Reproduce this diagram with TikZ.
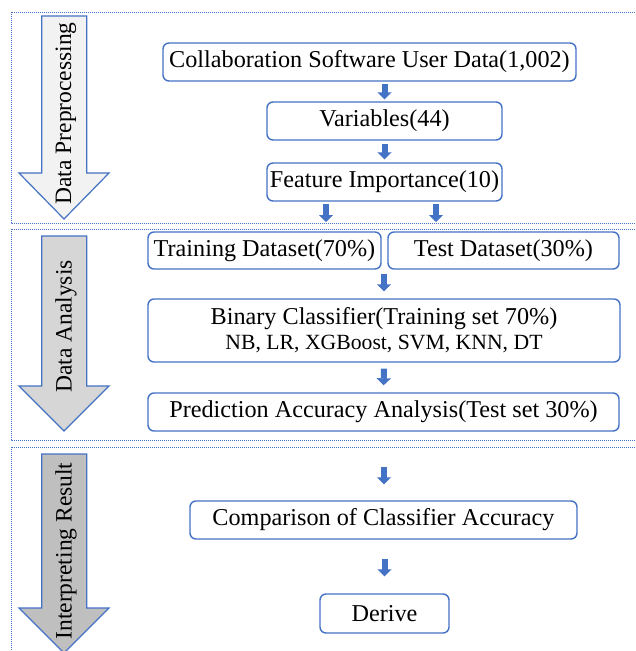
\documentclass[tikz,border=0pt]{standalone}
\usepackage{fontspec}
\setmainfont{Liberation Serif}
\usetikzlibrary{arrows.meta}
\definecolor{bblue}{HTML}{4472C4}
\definecolor{gA}{HTML}{F2F2F2}
\definecolor{gB}{HTML}{D6D6D6}
\definecolor{gC}{HTML}{BFBFBF}
\tikzset{
  panel/.style={draw=bblue, line width=1pt, dash pattern=on 1pt off 1pt},
  bigarrow/.style={draw=bblue, line width=1.2pt, line join=miter},
  box/.style={draw=bblue, line width=1.4pt, rounded corners=6pt, fill=white, inner sep=0pt, align=center, font=\fontsize{24.2}{28}\selectfont},
  sarrow/.style={draw=bblue, line width=6pt, -{Triangle[width=14pt,length=7pt]}, bblue},
  vlabel/.style={rotate=90, inner sep=0pt, font=\fontsize{23.5}{27}\selectfont}
}
\begin{document}
\begin{tikzpicture}[x=1pt,y=-1pt]
\useasboundingbox (0,0) rectangle (635,651);
\clip (0,0) rectangle (635,651);
% panels
\draw[panel] (11,12) rectangle (660,223);
\draw[panel] (11,229) rectangle (660,440);
\draw[panel] (11,447) rectangle (660,700);
% big arrows
\draw[bigarrow, fill=gA] (41.7,16) -- (86.7,16) -- (86.7,173) -- (109,173) -- (64,219) -- (19,173) -- (41.7,173) -- cycle;
\draw[bigarrow, fill=gB] (41.7,236) -- (86.7,236) -- (86.7,386) -- (109,386) -- (64,431) -- (19,386) -- (41.7,386) -- cycle;
\draw[bigarrow, fill=gC] (41.7,454) -- (86.7,454) -- (86.7,608) -- (109,608) -- (64,653) -- (19,608) -- (41.7,608) -- cycle;
\node[vlabel] (l1) at (66,113.5) {Data Preprocessing};
\node[vlabel] (l2) at (66,326.5) {Data Analysis};
\node[vlabel] (l3) at (66,551) {Interpreting Result};
% boxes
\node[box, minimum width=413pt, minimum height=38pt] (b1) at (369.5,62) {Collaboration Software User Data(1,002)};
\node[box, minimum width=235pt, minimum height=38pt] (b2) at (384.5,121) {Variables(44)};
\node[box, minimum width=235pt, minimum height=38pt] (b3) at (384.5,182) {Feature Importance(10)};
\node[box, minimum width=233pt, minimum height=37pt] (train) at (264.5,250.5) {Training Dataset(70\%)};
\node[box, minimum width=231pt, minimum height=37pt] (test) at (503.5,250.5) {Test Dataset(30\%)};
\node[box, minimum width=472pt, minimum height=63pt] (bin) at (384,330.5) {Binary Classifier(Training set 70\%)\\[-3pt]{\fontsize{21.7}{25}\selectfont NB, LR, XGBoost, SVM, KNN, DT}};
\node[box, minimum width=471pt, minimum height=38pt] (pred) at (383.5,412) {Prediction Accuracy Analysis(Test set 30\%)};
\node[box, minimum width=387pt, minimum height=38pt] (comp) at (383.5,520) {Comparison of Classifier Accuracy};
\node[box, minimum width=129pt, minimum height=39pt] (der) at (384.5,613.5) {Derive};
% small arrows
\coordinate (e1) at (326,222);
\coordinate (e2) at (436,222);
\coordinate (s3) at (384,467);
\draw[sarrow, shorten <=2pt, shorten >=2pt] (b1.south -| b2.north) -- (b2.north);
\draw[sarrow, shorten <=3pt, shorten >=3pt] (b2.south) -- (b3.north);
\draw[sarrow, shorten <=2pt] (b3.south -| e1) -- (e1);
\draw[sarrow, shorten <=2pt] (b3.south -| e2) -- (e2);
\draw[sarrow, shorten <=4pt, shorten >=7pt] (train.south -| bin.north) -- (bin.north);
\draw[sarrow, shorten <=6pt, shorten >=7pt] (bin.south) -- (pred.north);
\draw[sarrow, shorten >=16pt] (s3) -- (comp.north -| s3);
\draw[sarrow, shorten <=19pt, shorten >=17pt] (comp.south -| der.north) -- (der.north);
\end{tikzpicture}
\end{document}
